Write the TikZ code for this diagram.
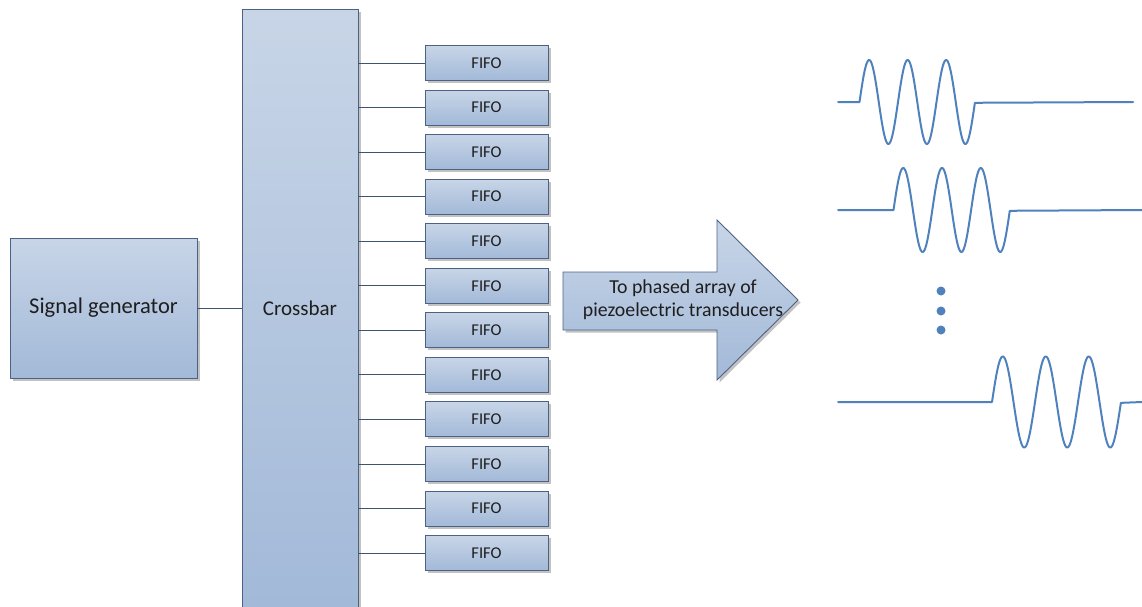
\documentclass[tikz,border=0pt]{standalone}
\usepackage{fontspec}
\setmainfont{Carlito}
\usetikzlibrary{shadows}
\definecolor{boxtop}{HTML}{C8D5E7}
\definecolor{boxbot}{HTML}{A2B9D8}
\definecolor{boxline}{HTML}{4D6283}
\definecolor{wirec}{HTML}{3E546E}
\definecolor{wavec}{HTML}{4F81BD}
\definecolor{txt}{HTML}{1E1E1E}
\begin{document}
\begin{tikzpicture}[x=1pt,y=-1pt,
  blk/.style={draw=boxline, line width=0.9pt, top color=boxtop, bottom color=boxbot, rectangle, inner sep=0pt, text=txt,
    drop shadow={shadow xshift=2.5pt, shadow yshift=-2.5pt, opacity=0.4, fill=black!60}},
  bigblk/.style={blk, font=\fontsize{21}{24}\selectfont},
  fifo/.style={blk, minimum width=123pt, minimum height=35pt, font=\fontsize{16.5}{18}\selectfont},
  wire/.style={draw=wirec, line width=0.9pt},
  wv/.style={draw=wavec, line width=2pt, line join=round, line cap=round}]
\useasboundingbox (0,0) rectangle (1142,606);

% signal generator and crossbar
\node[bigblk, minimum width=187pt, minimum height=140pt, font=\fontsize{22.5}{26}\selectfont] (sg) at (103.5,308) {Signal generator};
\node[bigblk, minimum width=116pt, minimum height=598pt] (cb) at (300,308) {Crossbar};
\draw[wire] (sg.east) -- (sg.east -| cb.west);

% FIFOs
\foreach \i in {0,...,11}{
  \node[fifo] (f\i) at (486.5,{63+44.55*\i}) {FIFO};
  \draw[wire] (f\i.west -| cb.east) -- (f\i.west);
}

% big arrow
\path[draw=boxline, line width=0.9pt, top color=boxtop, bottom color=boxbot,
  drop shadow={shadow xshift=2.5pt, shadow yshift=-2.5pt, opacity=0.4, fill=black!60}]
  (563,272) -- (717,272) -- (717,220) -- (798,300) -- (717,380) -- (717,330) -- (563,330) -- cycle;
\node[align=center, text=txt, font=\fontsize{19.8}{23}\selectfont, inner sep=0pt] (arrtxt) at (683,299.5)
  {To phased array of\\piezoelectric transducers};

% waveforms
\draw[wv] (838,102) -- (859.5,102)
  -- plot[domain=0:3, samples=200] ({859.5+38.5*\x},{102-42*sin(360*\x)})
  -- (1133,102);
\draw[wv] (838,210) -- (893.5,210)
  -- plot[domain=0:3, samples=200] ({893.5+38.8*\x},{210-42*sin(360*\x)})
  -- (1142,210);
\draw[wv] (838,402) -- (992,402)
  -- plot[domain=0:3, samples=200] ({992+43*\x},{402-45.5*sin(360*\x)})
  -- (1142,402);

% dots
\foreach \yy in {291,311,330}{
  \fill[wavec] (941,\yy) circle (4.5);
}
\end{tikzpicture}
\end{document}
